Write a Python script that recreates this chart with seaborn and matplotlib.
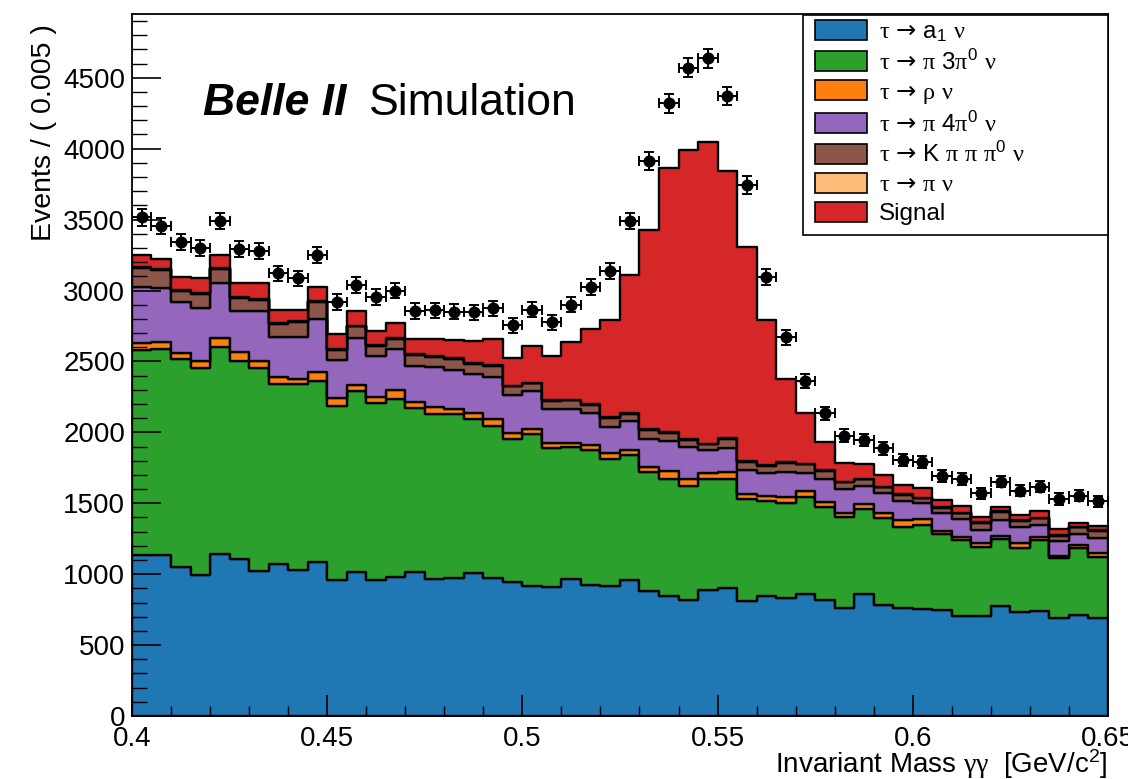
import numpy as np
import pandas as pd
import matplotlib
matplotlib.use("Agg")
import matplotlib.pyplot as plt
import seaborn as sns
from matplotlib.patches import Patch, Rectangle
from matplotlib.ticker import MultipleLocator, FormatStrFormatter

# ---------------- data (events per 0.005 GeV/c^2 bin, 0.40 - 0.65) ----------------
bin_lo, bin_hi, n_bins = 0.40, 0.65, 50

a1_nu = [1138, 1138, 1051, 992, 1145, 1110, 1020, 1070, 1027, 1084, 962, 1013, 957, 980, 1018,
         966, 976, 1006, 971, 945, 914, 907, 964, 921, 914, 957, 884, 848, 820, 886, 905, 813,
         844, 829, 858, 818, 764, 860, 785, 761, 754, 749, 702, 707, 778, 735, 740, 691, 709, 688]

pi_3pi0_nu = [1445, 1450, 1466, 1461, 1454, 1390, 1431, 1272, 1311, 1280, 1225, 1278, 1249, 1254,
              1155, 1164, 1150, 1087, 1075, 1011, 1073, 983, 933, 953, 896, 882, 839, 823, 802,
              782, 766, 717, 674, 670, 688, 658, 641, 599, 613, 574, 593, 534, 539, 487, 470, 447,
              501, 421, 473, 431]

rho_nu = [45, 47, 42, 47, 66, 64, 49, 48, 38, 63, 57, 42, 40, 64, 42, 52, 37, 40, 51, 38, 35, 33,
          26, 40, 41, 34, 35, 59, 51, 43, 49, 35, 33, 43, 43, 33, 24, 36, 35, 47, 44, 24, 23, 28,
          23, 35, 23, 18, 24, 32]

pi_4pi0_nu = [396, 384, 359, 377, 389, 295, 359, 280, 294, 373, 268, 330, 294, 287, 255, 281, 278,
              278, 295, 268, 271, 245, 245, 221, 189, 207, 192, 209, 221, 164, 172, 169, 160, 176,
              126, 162, 169, 129, 137, 136, 108, 126, 123, 89, 111, 118, 83, 104, 77, 102]

k_pi_pi_pi0_nu = [134, 125, 80, 99, 99, 87, 77, 92, 106, 118, 71, 85, 71, 71, 78, 70, 76, 71, 73,
                  62, 52, 54, 57, 57, 62, 51, 66, 54, 52, 40, 61, 57, 52, 68, 59, 59, 49, 44, 42,
                  40, 36, 36, 42, 52, 59, 40, 46, 35, 47, 51]

pi_nu = [6, 5, 7, 6, 5, 6, 5, 7, 6, 5, 6, 5, 6, 7, 5, 6, 5, 6, 7, 5, 6, 5, 6, 5, 7, 6, 5, 6, 5, 6,
         7, 5, 6, 5, 6, 5, 6, 5, 5, 6, 5, 6, 5, 5, 6, 5, 6, 5, 6, 5]

signal = [85, 75, 92, 109, 90, 99, 109, 94, 80, 99, 104, 99, 99, 108, 106, 116, 127, 153, 186, 193,
          259, 311, 403, 532, 682, 969, 1403, 1863, 2040, 2127, 1885, 1511, 1024, 587, 353, 199,
          134, 102, 80, 66, 70, 47, 47, 35, 28, 35, 48, 47, 28, 31]

data_events = [3515, 3455, 3340, 3300, 3490, 3295, 3280, 3120, 3085, 3250, 2920, 3040, 2955, 3000,
               2855, 2860, 2850, 2845, 2875, 2755, 2865, 2775, 2900, 3025, 3140, 3490, 3913, 4319,
               4571, 4636, 4371, 3744, 3097, 2670, 2364, 2134, 1976, 1946, 1887, 1805, 1793, 1694,
               1671, 1570, 1652, 1589, 1617, 1530, 1553, 1513]

component_labels = [
    r"$\mathcal{τ}\ \mathsf{→}\ \mathrm{a}_{\mathrm{1}}\ \mathcal{ν}$",
    r"$\mathcal{τ}\ \mathsf{→}\ \mathcal{π}\ \mathrm{3}\mathcal{π}^{\mathrm{0}}\ \mathcal{ν}$",
    r"$\mathcal{τ}\ \mathsf{→}\ \mathcal{ρ}\ \mathcal{ν}$",
    r"$\mathcal{τ}\ \mathsf{→}\ \mathcal{π}\ \mathrm{4}\mathcal{π}^{\mathrm{0}}\ \mathcal{ν}$",
    r"$\mathcal{τ}\ \mathsf{→}\ \mathrm{K}\ \mathcal{π}\ \mathcal{π}\ \mathcal{π}^{\mathrm{0}}\ \mathcal{ν}$",
    r"$\mathcal{τ}\ \mathsf{→}\ \mathcal{π}\ \mathcal{ν}$",
    "Signal",
]
component_keys = ["a1nu", "pi3pi0nu", "rhonu", "pi4pi0nu", "kpipipi0nu", "pinu", "signal"]
component_values = [a1_nu, pi_3pi0_nu, rho_nu, pi_4pi0_nu, k_pi_pi_pi0_nu, pi_nu, signal]
component_colors = ["#1f77b4", "#2ca02c", "#ff7f0e", "#9467bd", "#8c564b", "#ffbb78", "#d62728"]

# ---------------- style ----------------
sns.set_style("white")
plt.rcParams.update({
    "font.family": ["Liberation Sans", "DejaVu Sans"],
    "mathtext.fontset": "custom",
    "mathtext.rm": "Liberation Sans",
    "mathtext.it": "Liberation Sans:italic",
    "mathtext.bf": "Liberation Sans:bold",
    "mathtext.cal": "Liberation Serif",
    "mathtext.sf": "DejaVu Sans",
    "text.color": "black",
    "axes.labelcolor": "black",
    "xtick.color": "black",
    "ytick.color": "black",
})

edges = np.linspace(bin_lo, bin_hi, n_bins + 1)
centers = 0.5 * (edges[:-1] + edges[1:])

frames = [pd.DataFrame({"mass": centers, "events": vals, "component": key})
          for key, vals in zip(component_keys, component_values)]
df = pd.concat(frames, ignore_index=True)

palette = dict(zip(component_keys, component_colors))
hue_order = list(reversed(component_keys))  # seaborn puts the last hue level at the bottom

fig = plt.figure(figsize=(11.28, 7.79), dpi=100)
ax = fig.add_axes([0.117, 0.0809, 0.8652, 0.9012])

sns.histplot(data=df, x="mass", weights="events", hue="component", hue_order=hue_order,
             multiple="stack", bins=n_bins, binrange=(bin_lo, bin_hi), element="step",
             fill=True, palette=palette, alpha=1, edgecolor="black", linewidth=1.7,
             legend=False, ax=ax)

data_arr = np.asarray(data_events, dtype=float)
ax.errorbar(centers, data_arr, yerr=np.sqrt(data_arr), xerr=(edges[1] - edges[0]) / 2,
            fmt="none", ecolor="black", elinewidth=1.4, capsize=3.5, capthick=1.4, zorder=5)
sns.scatterplot(x=centers, y=data_arr, color="black", s=75, edgecolor="black", linewidth=0,
                ax=ax, zorder=6)

ax.set_xlim(bin_lo, bin_hi)
ax.set_ylim(0, 4950)
ax.set_axisbelow(False)

ax.xaxis.set_major_locator(MultipleLocator(0.05))
ax.xaxis.set_minor_locator(MultipleLocator(0.01))
ax.xaxis.set_major_formatter(FormatStrFormatter("%g"))
ax.yaxis.set_major_locator(MultipleLocator(500))
ax.yaxis.set_minor_locator(MultipleLocator(100))

ax.tick_params(axis="y", which="major", direction="in", length=21, width=1.2, labelsize=20,
               pad=5, left=True, right=False)
ax.tick_params(axis="y", which="minor", direction="in", length=10.5, width=1.0, left=True,
               right=False)
ax.tick_params(axis="x", which="major", direction="in", length=15, width=1.2, labelsize=20,
               pad=7, bottom=True, top=False)
ax.tick_params(axis="x", which="minor", direction="in", length=7.5, width=1.0, bottom=True,
               top=False)
for sp in ax.spines.values():
    sp.set_visible(True)
    sp.set_color("black")
    sp.set_linewidth(1.3)

ax.set_xlabel(r"Invariant Mass $\mathcal{γγ}$  [GeV/c$^{\mathrm{2}}$]", fontsize=20)
ax.xaxis.set_label_coords(1.0, -0.044)
ax.xaxis.label.set_horizontalalignment("right")
ax.xaxis.label.set_verticalalignment("top")
ax.set_ylabel("Events / ( 0.005 )", fontsize=20.5)
ax.yaxis.set_label_coords(-0.0768, 0.985)
ax.yaxis.label.set_horizontalalignment("right")

ax.text(0.0727, 0.856, "Belle II", transform=ax.transAxes, fontsize=32, fontweight="bold",
        fontstyle="italic", va="baseline", ha="left")
ax.text(0.2428, 0.856, "Simulation", transform=ax.transAxes, fontsize=32, va="baseline",
        ha="left")

# legend box (ROOT style: square frame, white fill)
ax.add_patch(Rectangle((0.6875, 0.6852), 0.3125, 0.3134, transform=ax.transAxes,
                       facecolor="white", edgecolor="black", linewidth=1.2, zorder=9,
                       clip_on=False))
handles = [Patch(facecolor=c, edgecolor="black", linewidth=1.2) for c in component_colors]
leg = ax.legend(handles, component_labels, loc="upper left",
                bbox_to_anchor=(0.6995, 0.992), frameon=False, fontsize=17.5,
                handlelength=2.15, handleheight=0.9, labelspacing=0.23, borderaxespad=0,
                borderpad=0.0, handletextpad=0.5)
leg.set_zorder(10)

fig.savefig("out.png", dpi=100)
